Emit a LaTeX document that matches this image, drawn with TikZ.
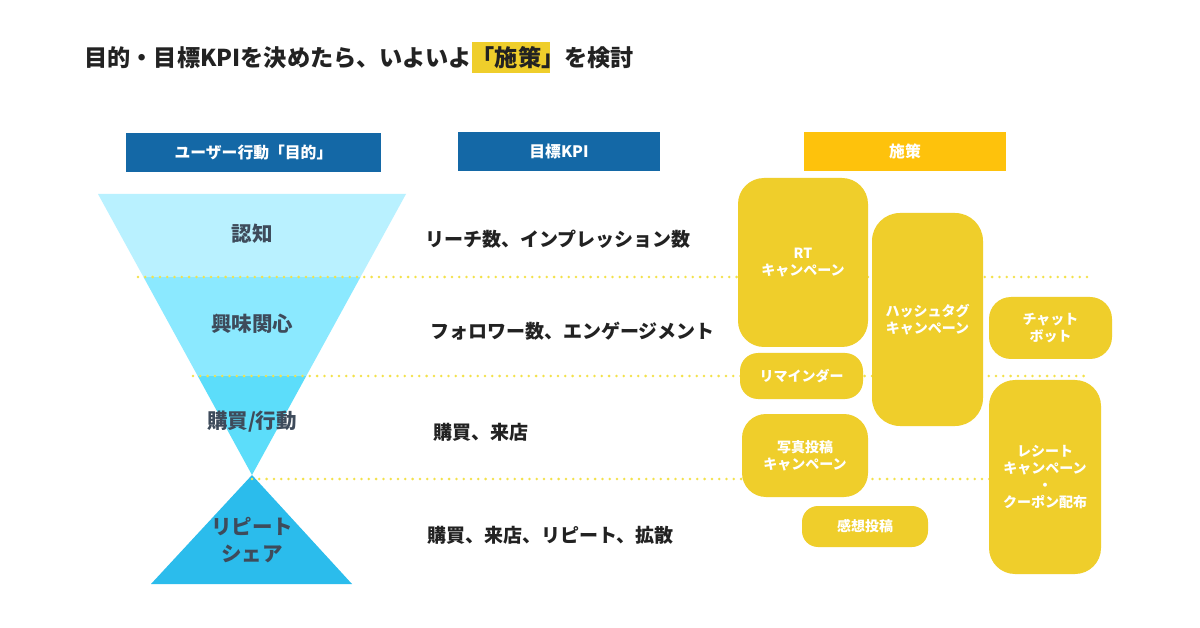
\documentclass[tikz,border=0pt]{standalone}
\usepackage{fontspec}
\setmainfont{Noto Sans CJK JP}
\usetikzlibrary{positioning}
\definecolor{Ink}{HTML}{222222}
\definecolor{Slate}{HTML}{3E4B5B}
\definecolor{Navy}{HTML}{1468A6}
\definecolor{Amber}{HTML}{FEC20C}
\definecolor{Mustard}{HTML}{EFCE2B}
\definecolor{Dot}{HTML}{F3E24A}
\definecolor{FunA}{HTML}{B9F1FF}
\definecolor{FunB}{HTML}{8BE9FF}
\definecolor{FunC}{HTML}{5CDDFA}
\definecolor{FunD}{HTML}{2BBCEC}

\begin{document}
\begin{tikzpicture}[
  x=1pt,y=-1pt,
  header/.style={fill=Navy,text=white,minimum height=39pt,font=\bfseries\fontsize{15.8}{18}\selectfont,inner sep=0pt},
  stage/.style={text=Slate,font=\bfseries\fontsize{20.5}{26}\selectfont,align=center},
  kpi/.style={anchor=west,text=Ink,font=\bfseries\fontsize{19}{22}\selectfont,inner sep=0pt},
  measure/.style={fill=Mustard,text=white,align=center,inner sep=0pt,font=\bfseries\fontsize{14}{17}\selectfont},
  divider/.style={draw=Dot,line width=2.8pt,line cap=round,dash pattern=on 0pt off 7.3pt}
]
\useasboundingbox[fill=white] (0,0) rectangle (1200,628);

% title
\fill[Mustard] (472,42) rectangle (550,73);
\node[anchor=west,text=Ink,font=\bfseries\fontsize{23.2}{26}\selectfont,inner sep=0pt] (title) at (84,58) {目的・目標KPIを決めたら、いよいよ「施策」を検討};

% column headers
\node[header,minimum width=255pt] (hstage) at (253.5,152.5) {ユーザー行動「目的」};
\node[header,minimum width=202pt] (hkpi) at (559,151.5) {目標KPI};
\node[header,fill=Amber,minimum width=202pt] (hmeasure) at (905,151.5) {施策};

% funnel
\begin{scope}
  \clip (98,194) -- (406,194) -- (252,475) -- cycle;
  \fill[FunA] (90,190) rectangle (410,277);
  \fill[FunB] (90,277) rectangle (410,376);
  \fill[FunC] (90,376) rectangle (410,480);
\end{scope}
\fill[FunD] (252,475) -- (352,584) -- (151,584) -- cycle;

% dotted dividers
\coordinate (d1a) at (138,277); \coordinate (d1b) at (1088,277);
\coordinate (d2a) at (193,376); \coordinate (d2b) at (1088,376);
\coordinate (d3a) at (252,479); \coordinate (d3b) at (1088,479);
\draw[divider] (d1a) -- (d1b);
\draw[divider] (d2a) -- (d2b);
\draw[divider] (d3a) -- (d3b);

% stages
\node[stage] (s1) at (252,234) {認知};
\node[stage] (s2) at (252,324) {興味関心};
\node[stage] (s3) at (252,422) {購買/行動};
\node[stage,font=\bfseries\fontsize{20.5}{27}\selectfont] (s4) at (252,540) {リピート\\シェア};

% KPIs
\node[kpi] (k1) at (425,239) {リーチ数、インプレッション数};
\node[kpi] (k2) at (430,331) {フォロワー数、エンゲージメント};
\node[kpi] (k3) at (433,432) {購買、来店};
\node[kpi] (k4) at (427,535) {購買、来店、リピート、拡散};

% measures
\node[measure,rounded corners=26pt,minimum width=130pt,minimum height=169pt] (rt) at (803,262.5) {RT\\キャンペーン};
\node[measure,rounded corners=28pt,minimum width=111pt,minimum height=213pt] (tag) at (927.5,319.5) {ハッシュタグ\\キャンペーン};
\node[measure,rounded corners=22pt,minimum width=123pt,minimum height=62pt] (bot) at (1050.5,328) {チャット\\ボット};
\node[measure,rounded corners=18pt,minimum width=123pt,minimum height=46pt] (remind) at (801.5,376) {リマインダー};
\node[measure,rounded corners=24pt,minimum width=126pt,minimum height=83pt] (photo) at (805,455.5) {写真投稿\\キャンペーン};
\node[measure,rounded corners=16pt,minimum width=126pt,minimum height=41pt] (review) at (865,526.5) {感想投稿};
\node[measure,rounded corners=26pt,minimum width=112pt,minimum height=194pt] (receipt) at (1045,477) {レシート\\キャンペーン\\・\\クーポン配布};
\end{tikzpicture}
\end{document}
